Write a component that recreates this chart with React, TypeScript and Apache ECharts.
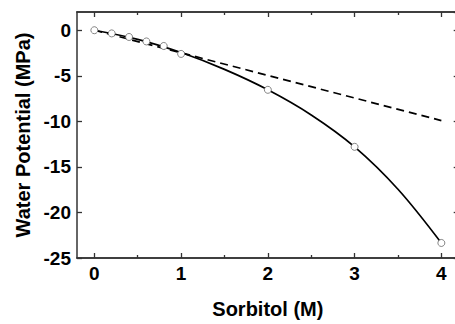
import React, { useEffect, useRef } from "react";
import * as echarts from "echarts";

// Sorbitol concentration (M) and measured water potential (MPa)
const sorbitol = [0, 0.2, 0.4, 0.6, 0.8, 1.0, 2, 3, 4];
const waterPotential = [0, -0.35, -0.74, -1.23, -1.73, -2.6, -6.54, -12.8, -23.35];

// Fitted curve through the measurements, sampled every 0.5 M
const fitX = [0, 0.5, 1, 1.5, 2, 2.5, 3, 3.5, 4];
const fitY = [0, -1.0, -2.45, -4.3, -6.54, -9.3, -12.8, -17.45, -23.35];

// Ideal (van 't Hoff) linear prediction, drawn dashed
const idealX = [0, 4];
const idealY = [0, -9.92];

const majorXTicks = [0, 1, 2, 3, 4];
const minorXTicks = [0.5, 1.5, 2.5, 3.5];

const FONT = "Liberation Sans, Arial, Helvetica, sans-serif";
const AXIS_COLOR = "#333";

export default function App() {
  const ref = useRef<HTMLDivElement>(null);

  useEffect(() => {
    if (!ref.current) return;
    const chart = echarts.init(ref.current, undefined, { renderer: "svg" });

    const xBase = {
      type: "value" as const,
      min: -0.2,
      max: 4.2,
      minInterval: 1,
      maxInterval: 1,
      splitLine: { show: false },
      axisLine: { show: true, onZero: false, lineStyle: { color: AXIS_COLOR, width: 1.5 } },
    };

    const option = {
      animation: false,
      backgroundColor: "#fff",
      grid: { left: 77, top: 12, width: 381.7, height: 254, containLabel: false },
      xAxis: [
        {
          ...xBase,
          position: "bottom",
          name: "Sorbitol (M)",
          nameLocation: "middle",
          nameGap: 41,
          nameTextStyle: { fontFamily: FONT, fontWeight: "bold", fontSize: 20, color: "#000" },
          axisTick: { show: true, inside: true, length: 5, customValues: majorXTicks, lineStyle: { color: AXIS_COLOR, width: 1.3 } },
          axisLabel: {
            customValues: majorXTicks,
            fontFamily: FONT,
            fontWeight: "bold",
            fontSize: 19,
            color: "#000",
            margin: 6,
          },
        },
        {
          ...xBase,
          position: "bottom",
          axisTick: { show: true, inside: true, length: 3, customValues: minorXTicks, lineStyle: { color: AXIS_COLOR, width: 1.3 } },
          axisLabel: { show: false },
        },
        {
          ...xBase,
          position: "top",
          axisTick: { show: true, inside: true, length: 5, customValues: majorXTicks, lineStyle: { color: AXIS_COLOR, width: 1.3 } },
          axisLabel: { show: false },
        },
        {
          ...xBase,
          position: "top",
          axisTick: { show: true, inside: true, length: 3, customValues: minorXTicks, lineStyle: { color: AXIS_COLOR, width: 1.3 } },
          axisLabel: { show: false },
        },
      ],
      yAxis: [
        {
          type: "value",
          position: "left",
          min: -25,
          max: 2,
          interval: 5,
          name: "Water Potential (MPa)",
          nameLocation: "middle",
          nameGap: 44,
          nameTextStyle: { fontFamily: FONT, fontWeight: "bold", fontSize: 20, color: "#000" },
          splitLine: { show: false },
          axisLine: { show: true, onZero: false, lineStyle: { color: AXIS_COLOR, width: 1.5 } },
          axisTick: { show: true, inside: true, length: 5, lineStyle: { color: AXIS_COLOR, width: 1.3 } },
          axisLabel: {
            showMaxLabel: false,
            fontFamily: FONT,
            fontWeight: "bold",
            fontSize: 19,
            color: "#000",
            margin: 6,
          },
        },
        {
          type: "value",
          position: "right",
          min: -25,
          max: 2,
          interval: 5,
          splitLine: { show: false },
          axisLine: { show: true, onZero: false, lineStyle: { color: AXIS_COLOR, width: 1.5 } },
          axisTick: { show: true, inside: true, length: 5, lineStyle: { color: AXIS_COLOR, width: 1.3 } },
          axisLabel: { show: false },
        },
      ],
      series: [
        {
          type: "line",
          name: "ideal",
          data: idealX.map((x, i) => [x, idealY[i]]),
          showSymbol: false,
          lineStyle: { color: "#000", width: 1.7, type: [8, 5] },
          z: 2,
        },
        {
          type: "line",
          name: "fit",
          data: fitX.map((x, i) => [x, fitY[i]]),
          smooth: 0.35,
          showSymbol: false,
          lineStyle: { color: "#000", width: 1.7 },
          z: 3,
        },
        {
          type: "scatter",
          name: "measured",
          data: sorbitol.map((x, i) => [x, waterPotential[i]]),
          symbol: "circle",
          symbolSize: 7,
          itemStyle: { color: "#fff", borderColor: "#666", borderWidth: 0.8, opacity: 1 },
          z: 4,
        },
      ],
    };

    chart.setOption(option as any);
    return () => chart.dispose();
  }, []);

  return (
    <div
      ref={ref}
      style={{ position: "fixed", left: 0, top: 0, width: 470, height: 324, background: "#fff" }}
    />
  );
}
